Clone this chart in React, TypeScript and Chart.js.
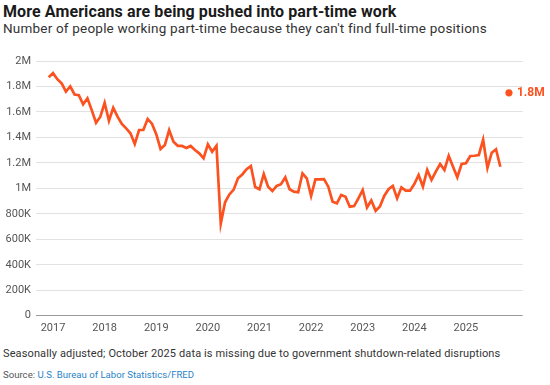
import React, { useEffect, useRef } from "react";
import { Chart, registerables } from "chart.js";

Chart.register(...registerables);

// Monthly series, Dec 2016 -> Sep 2025 (people, millions)
const START_YEAR = 2016;
const START_MONTH = 11; // December (0-based)
const VALUES_M = [
  1.872,
  1.905, 1.857, 1.825, 1.760, 1.800, 1.737, 1.732, 1.660, 1.707, 1.614, 1.515, 1.563,
  1.672, 1.531, 1.633, 1.563, 1.505, 1.471, 1.432, 1.348, 1.458, 1.458, 1.545, 1.508,
  1.425, 1.309, 1.340, 1.458, 1.366, 1.334, 1.333, 1.317, 1.333, 1.301, 1.275, 1.236,
  1.346, 1.288, 1.334, 0.723, 0.891, 0.952, 0.990, 1.079, 1.109, 1.150, 1.175, 1.010,
  0.993, 1.113, 1.013, 0.979, 1.019, 1.032, 1.087, 0.993, 0.974, 0.969, 1.118, 1.079,
  0.940, 1.071, 1.071, 1.073, 1.013, 0.895, 0.882, 0.948, 0.934, 0.856, 0.861, 0.921,
  0.987, 0.850, 0.905, 0.824, 0.858, 0.940, 0.993, 1.019, 0.921, 1.008, 0.982, 0.982,
  1.034, 1.105, 1.013, 1.144, 1.066, 1.131, 1.191, 1.144, 1.256, 1.170, 1.087, 1.191,
  1.197, 1.254, 1.256, 1.262, 1.382, 1.160, 1.280, 1.307, 1.170,
];

// Latest reading (Nov 2025), shown as a separate dot after the Oct gap
const LATEST_YEAR = 2025;
const LATEST_MONTH = 10; // November (0-based)
const LATEST_VALUE_M = 1.75;
const LATEST_LABEL = "1.8M";

const YEAR_TICKS = [2017, 2018, 2019, 2020, 2021, 2022, 2023, 2024, 2025];
const Y_TICKS_M = [0, 0.2, 0.4, 0.6, 0.8, 1, 1.2, 1.4, 1.6, 1.8, 2];
const X_MIN = 2016.67;
const X_MAX = 2026.1;

const TITLE = "More Americans are being pushed into part-time work";
const SUBTITLE = "Number of people working part-time because they can't find full-time positions";
const NOTE = "Seasonally adjusted; October 2025 data is missing due to government shutdown-related disruptions";
const SOURCE_LABEL = "Source: ";
const SOURCE_TEXT = "U.S. Bureau of Labor Statistics/FRED";

const ORANGE = "#fb5220";
const FONT = "Roboto, 'Liberation Sans', sans-serif";

function fmtY(v: number): string {
  if (v === 0) return "0";
  if (v >= 1e6) {
    const m = Math.round((v / 1e6) * 10) / 10;
    return `${m}M`;
  }
  return `${Math.round(v / 1e3)}K`;
}

export default function App() {
  const canvasRef = useRef<HTMLCanvasElement | null>(null);

  useEffect(() => {
    const canvas = canvasRef.current;
    if (!canvas) return;

    const series = VALUES_M.map((v, i) => ({
      x: START_YEAR + (START_MONTH + i) / 12,
      y: v * 1e6,
    }));
    const latest = [{ x: LATEST_YEAR + LATEST_MONTH / 12, y: LATEST_VALUE_M * 1e6 }];

    const labelPlugin = {
      id: "latestLabel",
      afterDatasetsDraw(chart: any) {
        const meta = chart.getDatasetMeta(1);
        const pt = meta && meta.data && meta.data[0];
        if (!pt) return;
        const ctx = chart.ctx;
        ctx.save();
        ctx.font = `bold 12px ${FONT}`;
        ctx.fillStyle = ORANGE;
        ctx.textBaseline = "middle";
        ctx.textAlign = "left";
        ctx.fillText(LATEST_LABEL, pt.x + 8, pt.y + 0.5);
        ctx.restore();
      },
    };

    const chart = new Chart(canvas, {
      type: "line",
      data: {
        datasets: [
          {
            data: series,
            borderColor: ORANGE,
            borderWidth: 2.7,
            pointRadius: 0,
            tension: 0,
            fill: false,
          },
          {
            data: latest,
            borderColor: ORANGE,
            backgroundColor: ORANGE,
            showLine: false,
            pointRadius: 3.6,
            pointBorderWidth: 0,
            clip: false as any,
          },
        ],
      },
      options: {
        responsive: false,
        animation: false,
        events: [],
        layout: { padding: { top: 13, right: 27.3, left: 0, bottom: 0 } },
        plugins: {
          legend: { display: false },
          tooltip: { enabled: false },
          title: { display: false },
        },
        scales: {
          x: {
            type: "linear",
            min: X_MIN,
            max: X_MAX,
            afterBuildTicks: (axis: any) => {
              axis.ticks = YEAR_TICKS.map((v) => ({ value: v }));
            },
            afterFit: (axis: any) => {
              axis.height = 24.3;
            },
            grid: { display: false, drawTicks: false },
            border: { display: false },
            ticks: {
              autoSkip: false,
              maxRotation: 0,
              padding: 6,
              color: "#555",
              font: { family: FONT, size: 11 },
              callback: (v: any) => String(v),
            },
          },
          y: {
            min: 0,
            max: 2e6,
            afterBuildTicks: (axis: any) => {
              axis.ticks = Y_TICKS_M.map((v) => ({ value: v * 1e6 }));
            },
            afterFit: (axis: any) => {
              axis.width = 36;
            },
            grid: {
              drawTicks: false,
              color: (c: any) => (c.tick && c.tick.value === 0 ? "#9a9a9a" : "#e2e2e2"),
              lineWidth: 1,
            },
            border: { display: false },
            ticks: {
              padding: 5,
              color: "#555",
              font: { family: FONT, size: 11 },
              callback: (v: any) => fmtY(Number(v)),
            },
          },
        },
      },
      plugins: [labelPlugin],
    } as any);

    return () => chart.destroy();
  }, []);

  return (
    <div
      style={{
        position: "fixed",
        left: 0,
        top: 0,
        width: 550,
        height: 385,
        background: "#fff",
        fontFamily: FONT,
        overflow: "hidden",
      }}
    >
      <div
        style={{
          position: "absolute",
          left: 3,
          top: 3.5,
          fontSize: 16,
          lineHeight: "16px",
          fontWeight: 700,
          letterSpacing: "0.1px",
          color: "#1a1a1a",
          whiteSpace: "nowrap",
        }}
      >
        {TITLE}
      </div>
      <div
        style={{
          position: "absolute",
          left: 3,
          top: 22,
          fontSize: 13.5,
          lineHeight: "13.5px",
          letterSpacing: "0.2px",
          color: "#333",
          whiteSpace: "nowrap",
        }}
      >
        {SUBTITLE}
      </div>
      <canvas
        ref={canvasRef}
        width={550}
        height={292}
        style={{ position: "absolute", left: 0, top: 48, width: 550, height: 292 }}
      />
      <div
        style={{
          position: "absolute",
          left: 3,
          top: 348,
          fontSize: 11,
          lineHeight: "11px",
          letterSpacing: "0.12px",
          color: "#333",
          whiteSpace: "nowrap",
        }}
      >
        {NOTE}
      </div>
      <div
        style={{
          position: "absolute",
          left: 3,
          top: 370,
          fontSize: 9.6,
          lineHeight: "9.6px",
          color: "#555",
          whiteSpace: "nowrap",
        }}
      >
        {SOURCE_LABEL}
        <span style={{ color: "#2b83c6" }}>{SOURCE_TEXT}</span>
      </div>
    </div>
  );
}
